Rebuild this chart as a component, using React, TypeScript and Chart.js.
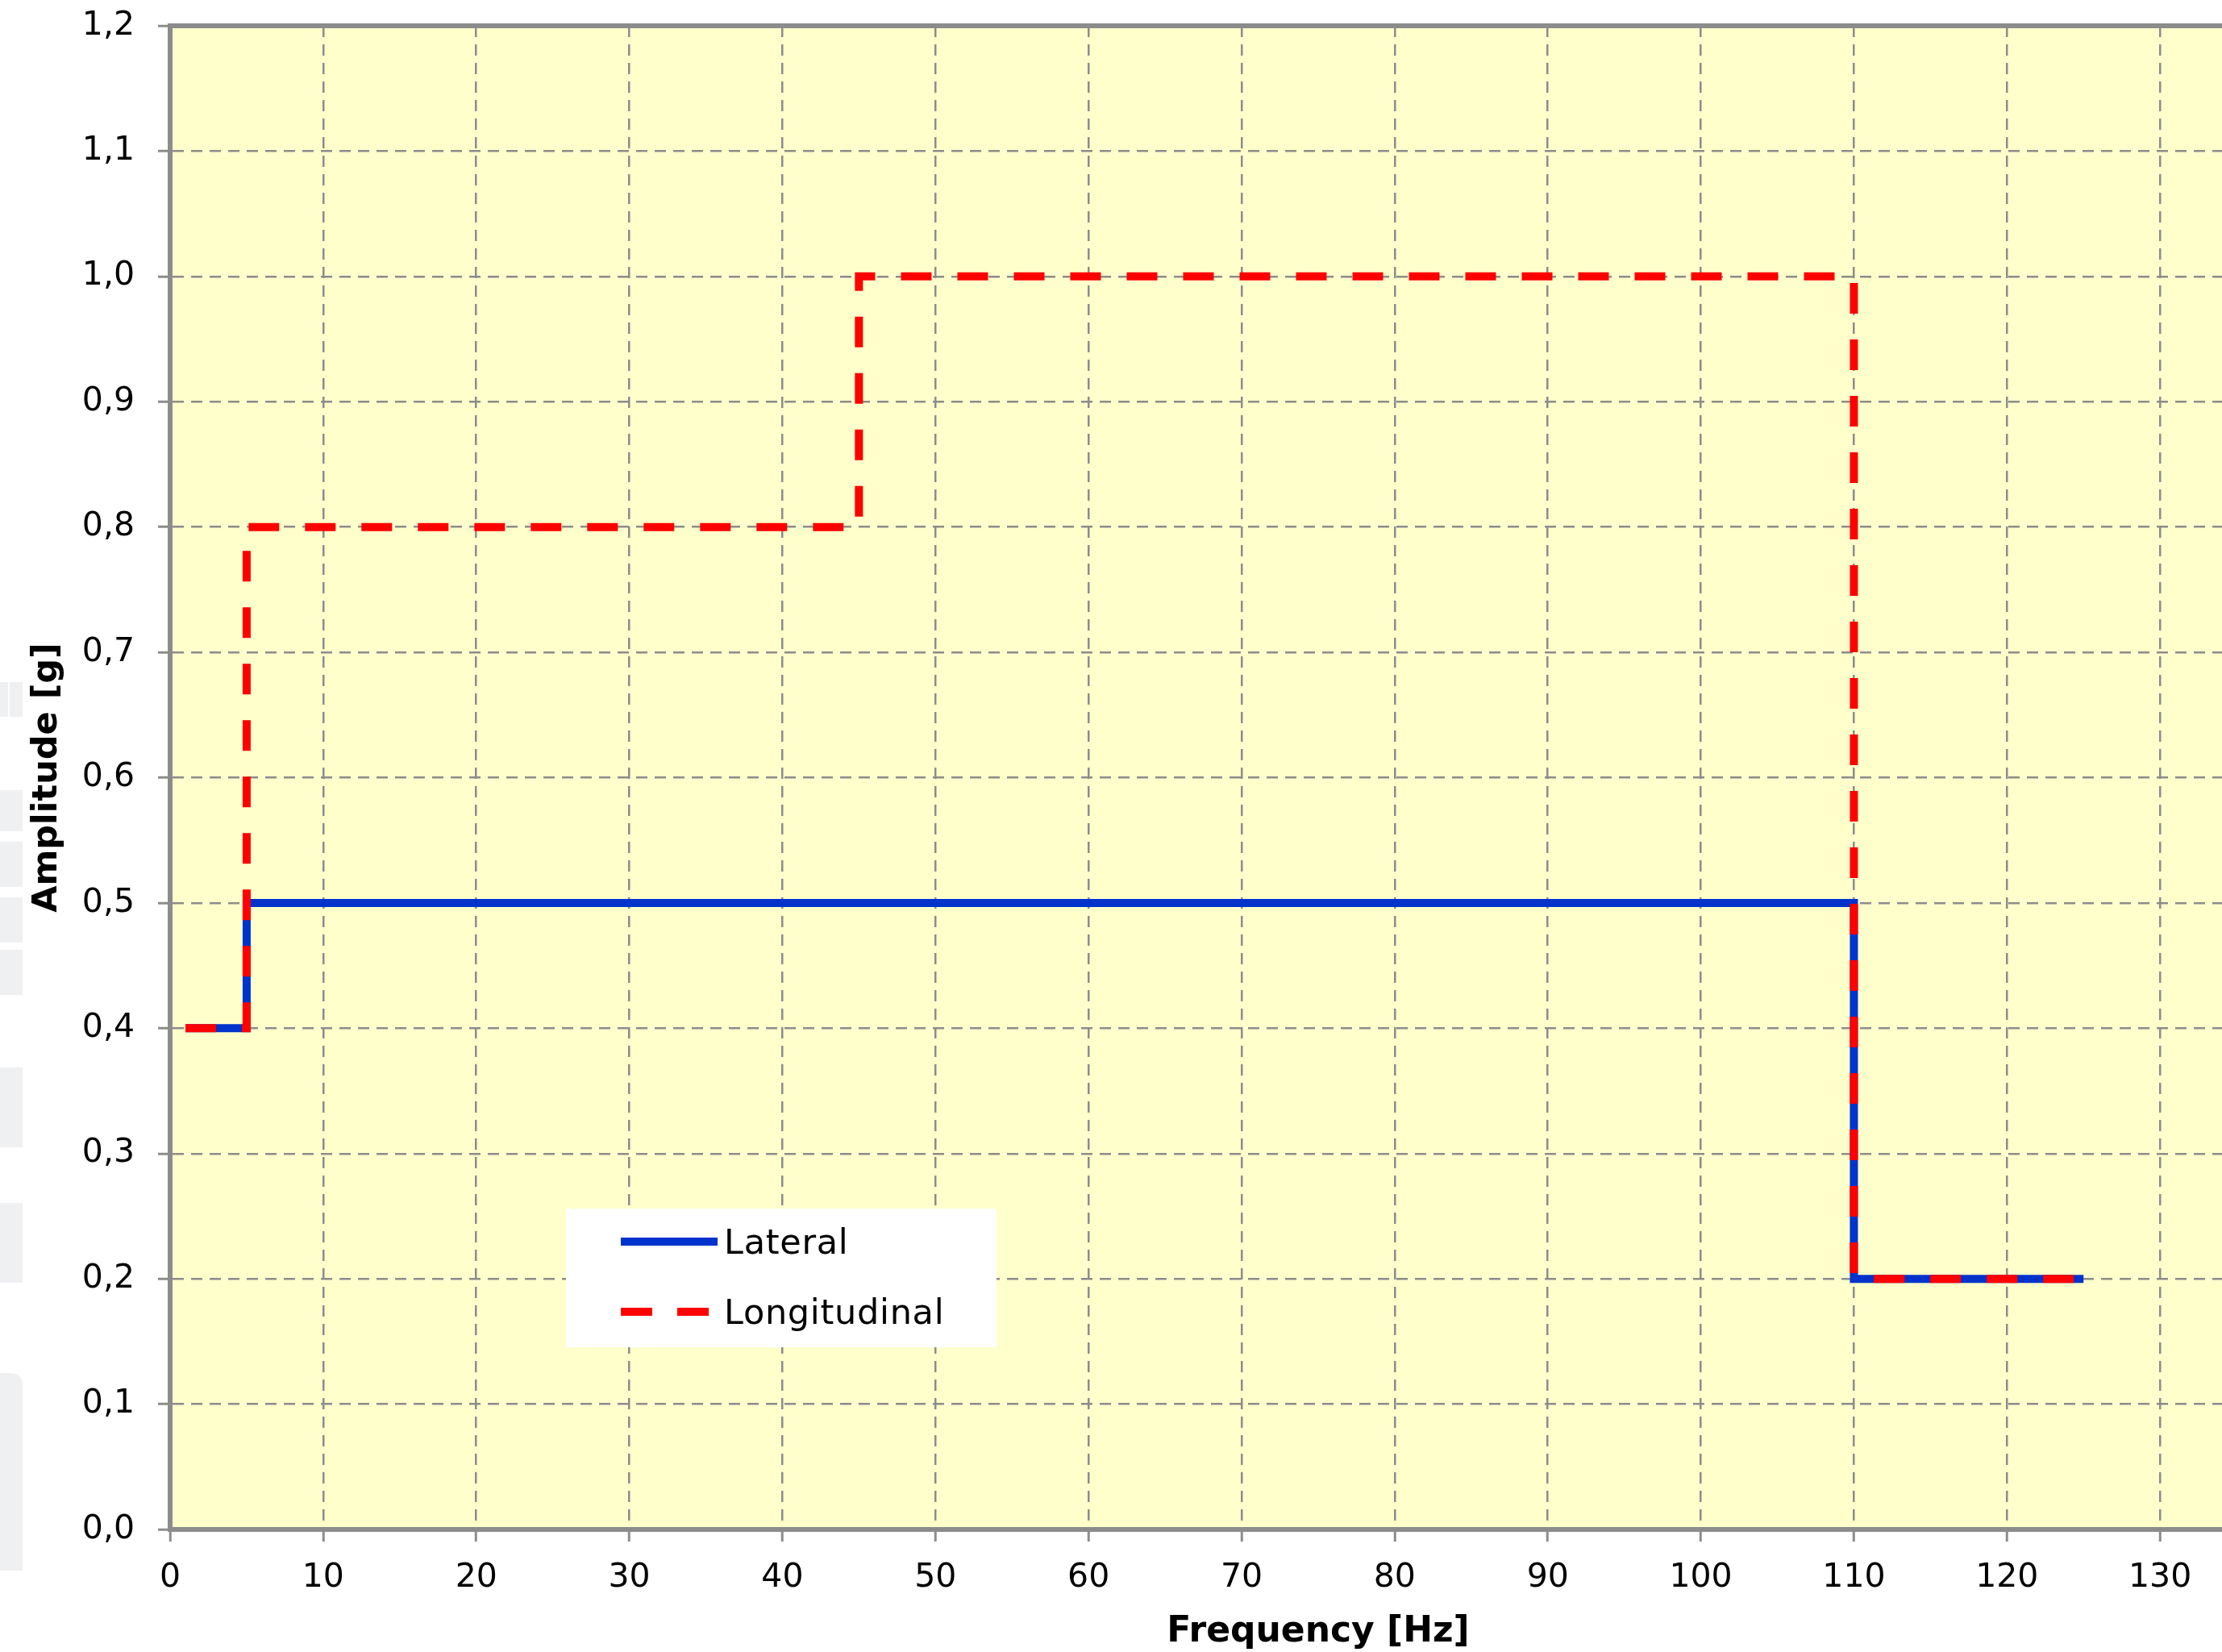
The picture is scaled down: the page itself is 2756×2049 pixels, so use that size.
import React, { useEffect, useRef } from "react";
import { Chart, registerables } from "chart.js";

Chart.register(...registerables);

// Vibration profile: step amplitude (g) versus frequency (Hz)
const lateralFreq = [1, 5, 5, 110, 110, 125];
const lateralAmp = [0.4, 0.4, 0.5, 0.5, 0.2, 0.2];
const longitudinalFreq = [1, 5, 5, 45, 45, 110, 110, 125];
const longitudinalAmp = [0.4, 0.4, 0.8, 0.8, 1.0, 1.0, 0.2, 0.2];

const seriesNames = ["Lateral", "Longitudinal"];
const yTickLabels = ["0,0", "0,1", "0,2", "0,3", "0,4", "0,5", "0,6", "0,7", "0,8", "0,9", "1,0", "1,1", "1,2"];
const xTitle = "Frequency [Hz]";
const yTitle = "Amplitude [g]";

const FONT = "'DejaVu Sans', Verdana, sans-serif";
const GRID = "#8c8c8c";
const BLUE = "#0033cc";
const RED = "#ff0000";

const CANVAS_W = 3119;
const CANVAS_H = 2049;

// Light grey blocks along the left page edge
const edgeBlocks: Array<[number, number, number, number, number]> = [
  [0, 846, 10, 43, 0],
  [12, 846, 16, 43, 0],
  [0, 980, 28, 51, 0],
  [0, 1044, 28, 56, 0],
  [0, 1113, 28, 56, 0],
  [0, 1178, 28, 56, 0],
  [0, 1324, 28, 99, 0],
  [0, 1492, 28, 99, 0],
  [0, 1703, 28, 245, 14],
];

const toPoints = (xs: number[], ys: number[]) => xs.map((x, i) => ({ x, y: ys[i] }));

const plotBackground = {
  id: "plotBackground",
  beforeDraw(chart: any) {
    const { ctx, chartArea } = chart;
    ctx.save();
    ctx.fillStyle = "#ffffcc";
    ctx.fillRect(chartArea.left, chartArea.top, chartArea.right - chartArea.left, chartArea.bottom - chartArea.top);
    ctx.restore();
  },
};

const topFrame = {
  id: "topFrame",
  afterDraw(chart: any) {
    const { ctx, chartArea } = chart;
    ctx.save();
    ctx.strokeStyle = GRID;
    ctx.lineWidth = 6;
    ctx.beginPath();
    ctx.moveTo(chartArea.left - 3, chartArea.top);
    ctx.lineTo(chartArea.right, chartArea.top);
    ctx.stroke();
    ctx.restore();
  },
};

// Legend box placed inside the plot area
const insideLegend = {
  id: "insideLegend",
  afterDraw(chart: any) {
    const { ctx } = chart;
    const box = { left: 702, top: 1499, right: 1236, bottom: 1671 };
    const rows = [
      { y: 1540, base: 1555 },
      { y: 1627, base: 1642 },
    ];
    ctx.save();
    ctx.fillStyle = "#ffffff";
    ctx.fillRect(box.left, box.top, box.right - box.left, box.bottom - box.top);
    chart.data.datasets.forEach((ds: any, i: number) => {
      const r = rows[i];
      const dashed = ds.borderDash && ds.borderDash.length;
      ctx.strokeStyle = ds.borderColor;
      ctx.lineWidth = ds.borderWidth;
      ctx.lineCap = "butt";
      ctx.setLineDash(dashed ? [39, 31] : []);
      ctx.beginPath();
      ctx.moveTo(770, r.y);
      ctx.lineTo(dashed ? 879 : 890, r.y);
      ctx.stroke();
      ctx.setLineDash([]);
      ctx.fillStyle = "#000000";
      ctx.font = `43px ${FONT}`;
      (ctx as any).letterSpacing = "0.7px";
      ctx.textAlign = "left";
      ctx.textBaseline = "alphabetic";
      ctx.fillText(ds.label, 898, r.base);
    });
    ctx.restore();
  },
};

function StepChart() {
  const ref = useRef<HTMLCanvasElement | null>(null);

  useEffect(() => {
    if (!ref.current) return;
    const chart = new Chart(ref.current, {
      type: "line",
      data: {
        datasets: [
          {
            label: seriesNames[0],
            data: toPoints(lateralFreq, lateralAmp),
            borderColor: BLUE,
            borderWidth: 10,
            pointRadius: 0,
            tension: 0,
            fill: false,
            order: 1,
          },
          {
            label: seriesNames[1],
            data: toPoints(longitudinalFreq, longitudinalAmp),
            borderColor: RED,
            borderWidth: 10,
            borderDash: [38, 32],
            pointRadius: 0,
            tension: 0,
            fill: false,
            order: 0,
          },
        ],
      },
      options: {
        responsive: false,
        animation: false,
        devicePixelRatio: 1,
        layout: { padding: { top: 32, right: 60, bottom: 0, left: 0 } },
        plugins: {
          legend: { display: false },
          tooltip: { enabled: false },
        },
        scales: {
          x: {
            type: "linear",
            min: 0,
            max: 150,
            ticks: {
              stepSize: 10,
              padding: 21,
              color: "#000000",
              font: { family: FONT, size: 41 },
              maxRotation: 0,
            },
            grid: {
              color: GRID,
              lineWidth: 2.5,
              tickLength: 15,
              tickWidth: 3,
              tickColor: GRID,
              tickBorderDash: [],
            },
            border: { display: true, color: GRID, width: 6, dash: [14, 9] },
            title: {
              display: true,
              text: xTitle,
              color: "#000000",
              font: { family: FONT, size: 44, weight: "bold" },
              padding: { top: 0, bottom: -2 },
            },
            afterFit: (scale: any) => {
              scale.height = CANVAS_H - 1897;
            },
          },
          y: {
            type: "linear",
            min: 0,
            max: 1.2,
            ticks: {
              stepSize: 0.1,
              padding: 29,
              color: "#000000",
              font: { family: FONT, size: 41 },
              callback: (_v: any, i: number) => yTickLabels[i],
            },
            grid: {
              color: GRID,
              lineWidth: 2.5,
              tickLength: 15,
              tickWidth: 3,
              tickColor: GRID,
              tickBorderDash: [],
            },
            border: { display: true, color: GRID, width: 6, dash: [14, 9] },
            title: {
              display: true,
              text: yTitle,
              color: "#000000",
              font: { family: FONT, size: 43, weight: "bold" },
              padding: { top: 33, bottom: 0 },
            },
            afterFit: (scale: any) => {
              scale.width = 211;
              scale.paddingTop = 0;
              scale.paddingBottom = 0;
            },
          },
        },
      },
      plugins: [plotBackground, topFrame, insideLegend],
    } as any);
    return () => chart.destroy();
  }, []);

  return <canvas ref={ref} width={CANVAS_W} height={CANVAS_H} style={{ display: "block" }} />;
}

export default function App() {
  return (
    <div
      style={{
        position: "fixed",
        left: 0,
        top: 0,
        width: 2756,
        height: 2049,
        overflow: "hidden",
        background: "#ffffff",
      }}
    >
      {edgeBlocks.map(([x, y, w, h, r], i) => (
        <div
          key={i}
          style={{
            position: "absolute",
            left: x,
            top: y,
            width: w,
            height: h,
            background: "#eff0f2",
            borderTopRightRadius: r,
          }}
        />
      ))}
      <div style={{ position: "absolute", left: 0, top: 0 }}>
        <StepChart />
      </div>
    </div>
  );
}
